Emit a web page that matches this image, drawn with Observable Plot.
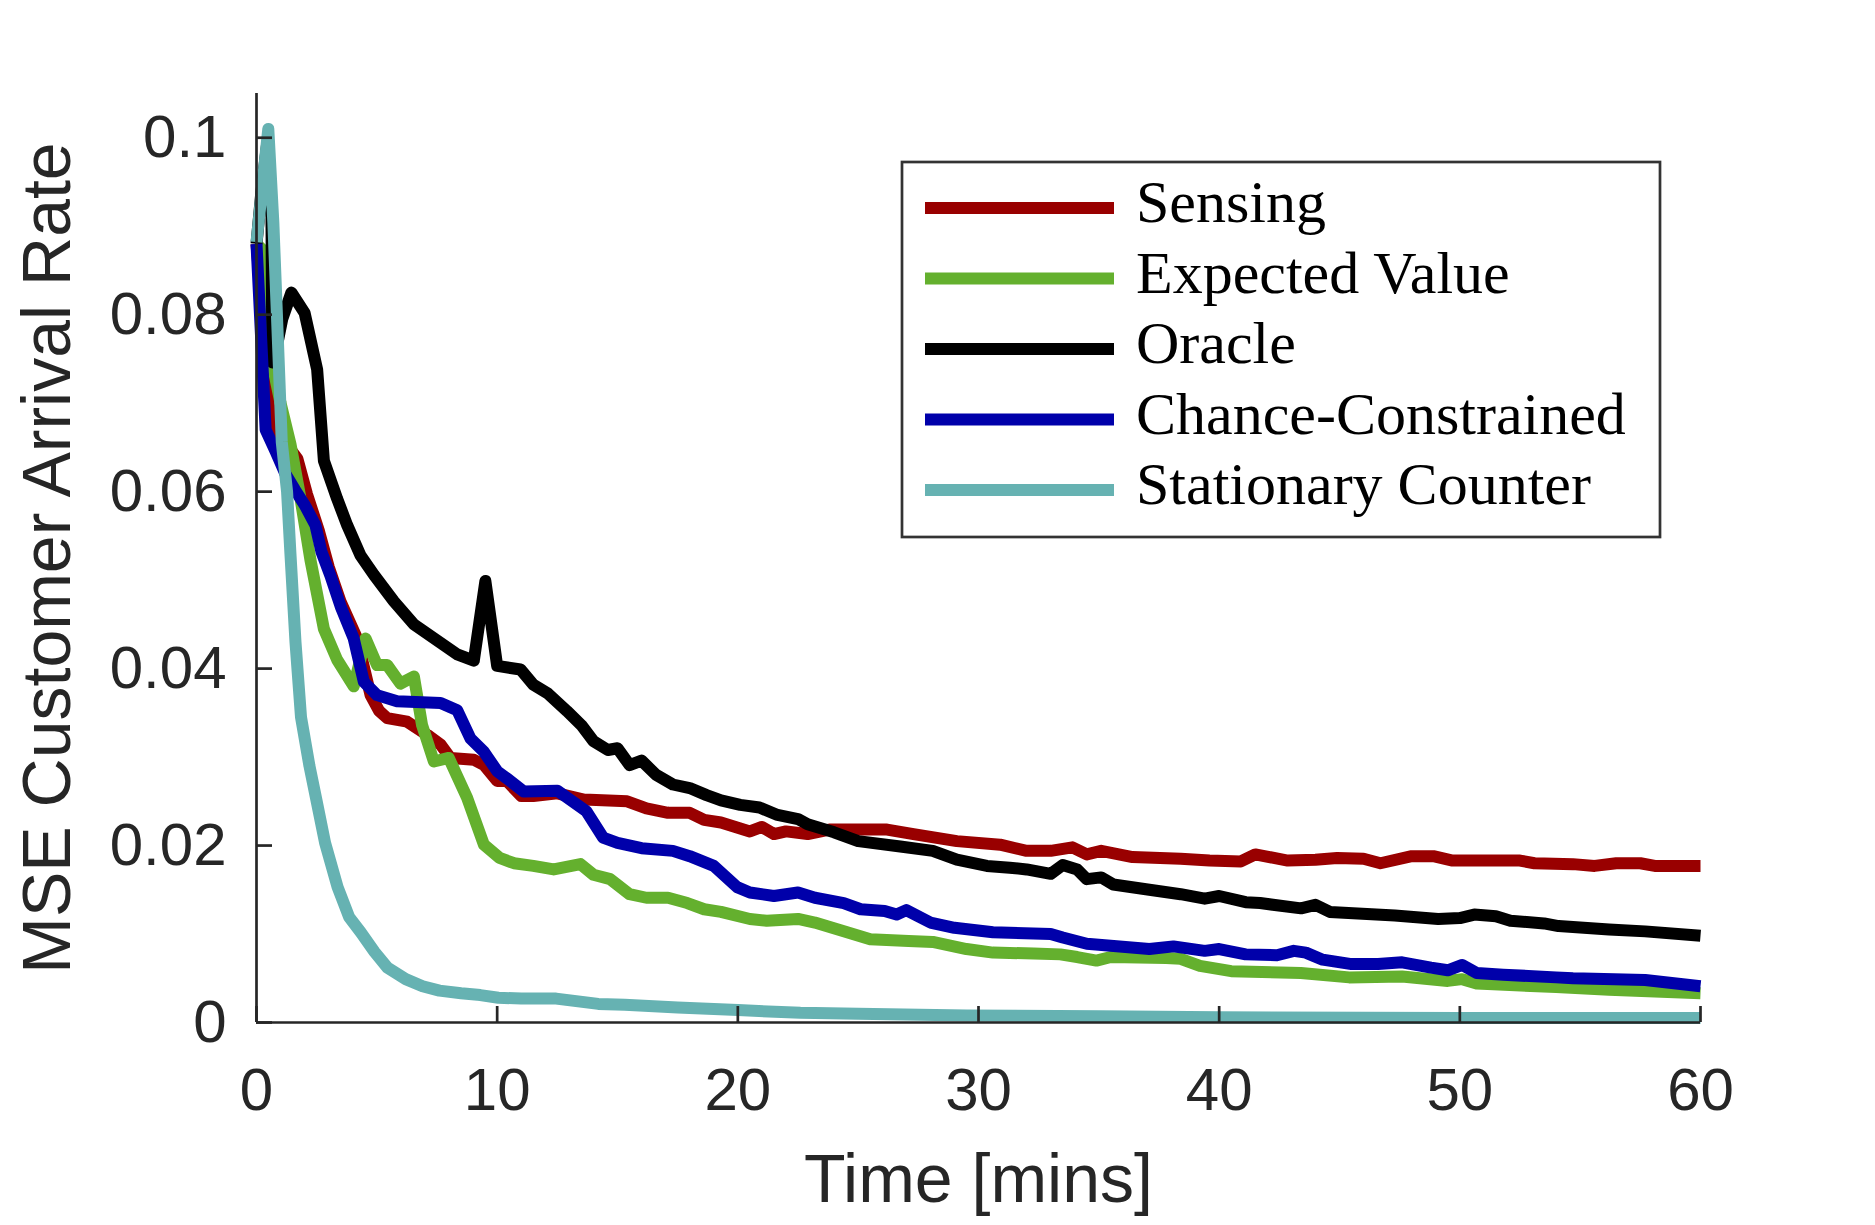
<!DOCTYPE html>
<html>
<head>
<meta charset="utf-8">
<script src="https://cdn.jsdelivr.net/npm/d3@7"></script>
<script src="https://cdn.jsdelivr.net/npm/@observablehq/plot@0.6"></script>
<style>
  html, body { margin: 0; padding: 0; background: #fff; overflow: hidden; }
  #chart svg { display: block; }
</style>
</head>
<body>
<div id="chart"></div>
<script>
// ---- data (time in minutes, MSE) ----
const seriesNames = ["Sensing", "Expected Value", "Oracle", "Chance-Constrained", "Stationary Counter"];
const seriesColors = ["#990000", "#64b02e", "#000000", "#0000aa", "#66b2b2"];

const sensing = [[0,0.088],[0.25,0.080],[0.54,0.069],[1.0,0.066],[1.4,0.0648],[1.7,0.0637],[2.1,0.0597],[2.6,0.0555],[3.0,0.0515],[3.49,0.0476],[4.18,0.0434],[4.74,0.037],[5.1,0.0352],[5.43,0.0344],[6.26,0.034],[7.1,0.0325],[7.65,0.0314],[8.06,0.0299],[9.03,0.0297],[9.45,0.0291],[10.0,0.0273],[10.4,0.0273],[11.0,0.0256],[11.5,0.0256],[12.5,0.0259],[13.6,0.0252],[15.4,0.0250],[16.2,0.0242],[17.1,0.0237],[18.0,0.0237],[18.6,0.0229],[19.3,0.0226],[20.5,0.0216],[21.0,0.0221],[21.5,0.0213],[22.0,0.0216],[22.9,0.0213],[23.8,0.0218],[26.2,0.0218],[27.3,0.0213],[29.1,0.0205],[30.9,0.0201],[32.0,0.0194],[33.0,0.0194],[33.9,0.0198],[34.5,0.0190],[35.1,0.0194],[36.4,0.0187],[38.4,0.0185],[39.6,0.0183],[40.9,0.0182],[41.5,0.0190],[42.85,0.0183],[44.0,0.0184],[44.9,0.0186],[46.0,0.0185],[46.7,0.0180],[48.0,0.0188],[48.9,0.0188],[49.7,0.0183],[52.5,0.0183],[53.1,0.0180],[54.7,0.0179],[55.6,0.0177],[56.5,0.0180],[57.5,0.0180],[58.1,0.0177],[60,0.0177]];

const expectedValue = [[0,0.088],[0.3,0.0872],[0.5,0.081],[0.65,0.0746],[1.0,0.070],[1.41,0.0654],[1.83,0.0592],[2.24,0.0523],[2.8,0.0445],[3.35,0.041],[4.04,0.038],[4.53,0.0434],[5.01,0.0404],[5.43,0.0404],[5.98,0.0383],[6.54,0.0391],[6.88,0.0336],[7.37,0.0295],[7.99,0.0299],[8.75,0.0254],[9.45,0.0201],[10.1,0.0186],[10.7,0.018],[11.5,0.0177],[12.35,0.0173],[13.46,0.0179],[14.0,0.0167],[14.7,0.0162],[15.5,0.0145],[16.2,0.0141],[17.1,0.0141],[17.9,0.0135],[18.6,0.0128],[19.3,0.0125],[20.5,0.0117],[21.2,0.0115],[22.5,0.0117],[23.2,0.0113],[24.3,0.0104],[25.5,0.0094],[27.1,0.0092],[28.1,0.0091],[29.5,0.0083],[30.6,0.0079],[32.3,0.0078],[33.4,0.0077],[34.1,0.0074],[34.9,0.0070],[35.5,0.0074],[37.8,0.0073],[38.4,0.0072],[39.2,0.0064],[40.5,0.0058],[43.4,0.0056],[45.4,0.0051],[47.6,0.0052],[49.5,0.0047],[50.1,0.0049],[50.7,0.0044],[54.0,0.0040],[56.2,0.0037],[60,0.0033]];

const oracle = [[0,0.088],[0.2,0.0938],[0.45,0.0995],[0.62,0.092],[0.66,0.0746],[0.85,0.0765],[1.07,0.0795],[1.45,0.0825],[2.0,0.0802],[2.52,0.0738],[2.8,0.0635],[3.35,0.0592],[3.77,0.0562],[4.32,0.0528],[4.88,0.0506],[5.71,0.0476],[6.54,0.045],[7.65,0.0429],[8.34,0.0416],[9.03,0.0409],[9.51,0.0499],[10.0,0.0403],[10.97,0.0399],[11.5,0.0382],[12.1,0.0372],[12.9,0.0352],[13.5,0.0336],[14.0,0.0318],[14.6,0.0308],[15.0,0.031],[15.5,0.0291],[16.0,0.0296],[16.6,0.028],[17.3,0.0269],[18.0,0.0265],[18.7,0.0257],[19.3,0.0251],[20.1,0.0246],[20.9,0.0243],[21.6,0.0235],[22.5,0.023],[22.9,0.0224],[24.0,0.0215],[25.0,0.0205],[26.75,0.0199],[28.1,0.0194],[29.1,0.0184],[30.35,0.0177],[31.3,0.0175],[32.0,0.0173],[33.0,0.0168],[33.5,0.0178],[34.1,0.0173],[34.5,0.0162],[35.1,0.0164],[35.6,0.0156],[37.1,0.015],[38.4,0.0145],[39.4,0.014],[40.0,0.0143],[41.1,0.0136],[41.7,0.0135],[43.4,0.0129],[44.0,0.0133],[44.6,0.0125],[47.3,0.0121],[49.1,0.0117],[50.0,0.0118],[50.6,0.0122],[51.5,0.012],[52.1,0.0115],[53.5,0.0112],[54.1,0.0109],[56.2,0.0105],[57.7,0.0103],[60,0.0098]];

const chanceConstrained = [[0,0.088],[0.38,0.067],[0.8,0.0645],[1.2,0.062],[1.6,0.0602],[2.0,0.0585],[2.45,0.0562],[2.7,0.0532],[3.07,0.0505],[3.5,0.047],[4.04,0.0434],[4.46,0.0385],[5.01,0.037],[5.84,0.0363],[7.65,0.0361],[8.34,0.0353],[8.89,0.0321],[9.45,0.0306],[10.0,0.0284],[10.4,0.0276],[11.1,0.0261],[12.5,0.0262],[13.7,0.0239],[14.4,0.0209],[15.0,0.0203],[16.0,0.0197],[17.3,0.0194],[18.0,0.0188],[19.0,0.0177],[19.97,0.0153],[20.5,0.0147],[21.5,0.0143],[22.5,0.0147],[23.2,0.0141],[24.4,0.0135],[25.1,0.0128],[26.1,0.0126],[26.6,0.0122],[27.0,0.0127],[28.0,0.0113],[29.0,0.0107],[30.6,0.0102],[33.0,0.0100],[33.5,0.0096],[34.5,0.0089],[37.1,0.0083],[38.1,0.0086],[39.4,0.0081],[40.0,0.0083],[41.1,0.0077],[42.4,0.0076],[43.1,0.0081],[43.6,0.0079],[44.3,0.0071],[45.5,0.0066],[46.6,0.0066],[47.6,0.0068],[48.8,0.0062],[49.5,0.0059],[50.1,0.0065],[50.7,0.0056],[51.8,0.0054],[54.0,0.0051],[54.7,0.0050],[57.7,0.0048],[60,0.0041]];

const stationaryCounter = [[0,0.0882],[0.49,0.101],[0.7,0.0904],[0.84,0.0806],[1.05,0.0656],[1.27,0.060],[1.41,0.053],[1.62,0.043],[1.85,0.0345],[2.2,0.029],[2.5,0.025],[2.85,0.0203],[3.37,0.0153],[3.85,0.0119],[4.33,0.0102],[4.9,0.0080],[5.44,0.0062],[6.2,0.0049],[6.9,0.0041],[7.6,0.0036],[8.5,0.0033],[9.3,0.0031],[10.05,0.0028],[11,0.0027],[12.45,0.0027],[14.2,0.0021],[15.3,0.0020],[17.5,0.0017],[20,0.0014],[22.6,0.0011],[25,0.0010],[29.5,0.0008],[35,0.0007],[40,0.0006],[50,0.0005],[60,0.0005]];

const xTicks = [0, 10, 20, 30, 40, 50, 60];
const xTickLabels = ["0", "10", "20", "30", "40", "50", "60"];
const yTicks = [0, 0.02, 0.04, 0.06, 0.08, 0.1];
const yTickLabels = ["0", "0.02", "0.04", "0.06", "0.08", "0.1"];
const xLabel = "Time [mins]";
const yLabel = "MSE Customer Arrival Rate";

// ---- build table ----
const seriesPoints = [sensing, expectedValue, oracle, chanceConstrained, stationaryCounter];
const rows = seriesPoints.flatMap((pts, i) => pts.map(([t, v]) => ({t, v, name: seriesNames[i]})));

// ---- layout ----
const W = 1875, H = 1225;
const mL = 256, mR = 175, mT = 93, mB = 203;
const xDomain = [0, 60], yDomain = [0, 0.105];
const tickPx = 16;
const tickLenX = tickPx * (xDomain[1] - xDomain[0]) / (W - mL - mR);
const tickLenY = tickPx * (yDomain[1] - yDomain[0]) / (H - mT - mB);
const axisColor = "#262626";
const lineW = 12;

const chart = Plot.plot({
  width: W, height: H,
  marginLeft: mL, marginRight: mR, marginTop: mT, marginBottom: mB,
  x: {domain: xDomain, label: null},
  y: {domain: yDomain, label: null},
  color: {domain: seriesNames, range: seriesColors},
  style: {fontFamily: "'Liberation Sans', Arial, Helvetica, sans-serif", fontSize: "60px", color: axisColor, background: "#fff"},
  marks: [
    Plot.line(rows, {x: "t", y: "v", z: "name", stroke: "name", strokeWidth: lineW, strokeLinejoin: "round", strokeLinecap: "butt"}),
    // axis lines
    Plot.ruleX([xDomain[0]], {x: d => d, y1: yDomain[0], y2: yDomain[1], stroke: axisColor, strokeWidth: 2.7}),
    Plot.ruleY([yDomain[0]], {y: d => d, x1: xDomain[0], x2: xDomain[1], stroke: axisColor, strokeWidth: 2.7}),
    // inward ticks
    Plot.ruleY(yTicks, {y: d => d, x1: xDomain[0], x2: xDomain[0] + tickLenX, stroke: axisColor, strokeWidth: 2.7}),
    Plot.ruleX(xTicks, {x: d => d, y1: yDomain[0], y2: yDomain[0] + tickLenY, stroke: axisColor, strokeWidth: 2.7}),
    // tick labels
    Plot.axisX(xTicks, {tickSize: 0, tickPadding: 45, fontSize: 60, label: null, tickFormat: d => xTickLabels[xTicks.indexOf(d)]}),
    Plot.axisY(yTicks, {tickSize: 0, tickPadding: 30, fontSize: 60, label: null, tickFormat: d => yTickLabels[yTicks.indexOf(d)]}),
    // axis titles
    Plot.text([xLabel], {x: null, y: null, text: d => d, frameAnchor: "bottom", dy: 179, lineAnchor: "bottom", textAnchor: "middle", fontSize: 68, fill: axisColor}),
    Plot.text([yLabel], {x: null, y: null, text: d => d, frameAnchor: "left", dx: -187, rotate: -90, lineAnchor: "bottom", textAnchor: "middle", fontSize: 68, fill: axisColor})
  ]
});

document.getElementById("chart").appendChild(chart);

// ---- legend (inside the axes, top right) ----
const svg = d3.select(chart);
const lg = svg.append("g").attr("class", "legend").attr("text-anchor", "start");
const box = {x: 902, y: 162, w: 758, h: 375};
lg.append("rect").attr("x", box.x).attr("y", box.y).attr("width", box.w).attr("height", box.h)
  .attr("fill", "#fff").attr("stroke", "#333").attr("stroke-width", 2.7);
seriesNames.forEach((name, i) => {
  const cy = 208 + i * 70.5;
  lg.append("line").attr("x1", 925).attr("x2", 1114).attr("y1", cy).attr("y2", cy)
    .attr("stroke", seriesColors[i]).attr("stroke-width", lineW);
  lg.append("text").attr("x", 1136).attr("y", cy + 14).text(name)
    .attr("text-anchor", "start")
    .attr("font-family", "'Liberation Serif', 'Times New Roman', serif")
    .attr("font-size", 60).attr("fill", "#000");
});
</script>
</body>
</html>
